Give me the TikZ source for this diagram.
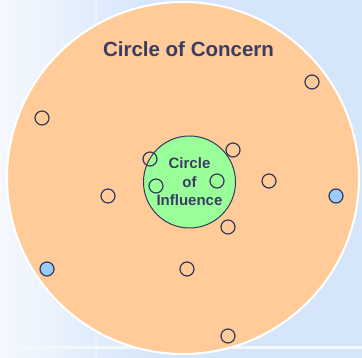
\documentclass[tikz,border=0pt]{standalone}
\usepackage{fontspec}
\setmainfont{Liberation Sans}
\usepackage{tikz}
\usetikzlibrary{positioning,backgrounds}
\definecolor{skybg}{HTML}{D6E6FA}
\definecolor{concernfill}{HTML}{FFCC99}
\definecolor{influencefill}{HTML}{99FF99}
\definecolor{dotblue}{HTML}{99CCFF}
\definecolor{inkline}{HTML}{34385A}
\definecolor{inktext}{HTML}{3B3C64}

\begin{document}
\begin{tikzpicture}[
  x=1pt, y=-1pt,
  concern/.style={circle, draw=white, line width=2pt, fill=concernfill, minimum size=352pt, inner sep=0pt},
  influence/.style={circle, draw=inkline, line width=1pt, fill=influencefill, minimum size=92pt, inner sep=0pt,
    align=center, text=inktext, font=\bfseries\fontsize{15}{18.5}\selectfont},
  dot/.style={circle, draw=inkline, line width=1.2pt, minimum size=14pt, inner sep=0pt},
  bluedot/.style={dot, fill=dotblue}
]
  \useasboundingbox (0,0) rectangle (362,358);

  % Backdrop
  \fill[skybg] (0,0) rectangle (362,358);
  \shade[left color=white!75!skybg, right color=skybg] (0,0) rectangle (150,358);
  \foreach \x in {18,34,62,96} {
    \draw[white!60!skybg, line width=2pt, opacity=0.7] (\x,0) -- (\x,358);
  }
  \fill[white!70!skybg] (0,346) rectangle (362,349);

  % Circle of Concern
  \node[concern] (concern) at (183,178) {};
  \node[anchor=base, text=inktext, font=\bfseries\fontsize{20.5}{24}\selectfont] (concernlabel) at (188.5,57) {Circle of Concern};

  % Circle of Influence
  \node[influence] (influence) at (189.5,182) {Circle\\of\\Influence};

  % Issues
  \foreach \i/\x/\y in {1/312/82, 2/42/118, 3/150/159, 4/233/150, 5/156/186, 6/217/181,
                        7/269/181, 8/108/196, 9/228/227, 10/187/269, 11/228/336} {
    \node[dot] (d\i) at (\x,\y) {};
  }
  \node[bluedot] (b1) at (336,196) {};
  \node[bluedot] (b2) at (47,269) {};
\end{tikzpicture}
\end{document}
